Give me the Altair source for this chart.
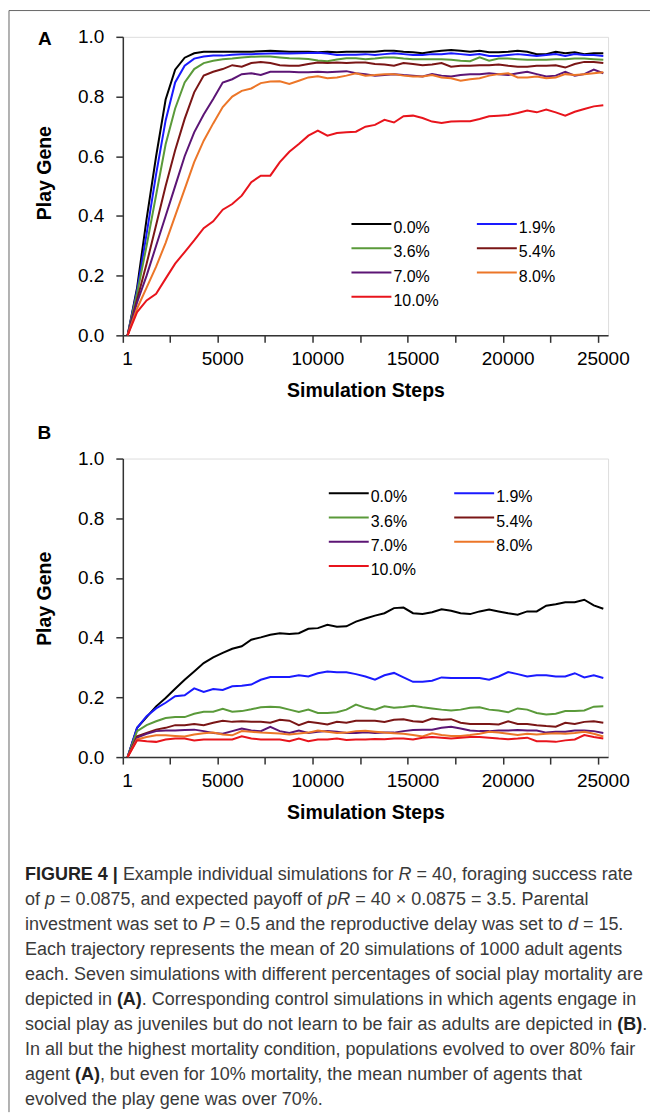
import altair as alt
import pandas as pd

STEPS = [1, 500, 1000, 1500, 2000, 2500, 3000, 3500, 4000, 4500,
         5000, 5500, 6000, 6500, 7000, 7500, 8000, 8500, 9000, 9500,
         10000, 10500, 11000, 11500, 12000, 12500, 13000, 13500, 14000, 14500,
         15000, 15500, 16000, 16500, 17000, 17500, 18000, 18500, 19000, 19500,
         20000, 20500, 21000, 21500, 22000, 22500, 23000, 23500, 24000, 24500, 25000]
TICK_STEPS = [1, 2500, 5000, 7500, 10000, 12500, 15000, 17500, 20000, 22500, 25000]
Y_TICKS = [0.0, 0.2, 0.4, 0.6, 0.8, 1.0]

SERIES = ["0.0%", "1.9%", "3.6%", "5.4%", "7.0%", "8.0%", "10.0%"]
COLORS = ["#000000", "#1a1aff", "#5a9a3a", "#7a1616", "#5c1575", "#ec7628", "#e8141c"]

A_00 = [0, 0.16, 0.39, 0.60, 0.79, 0.89, 0.93, 0.945, 0.95, 0.95,
        0.95, 0.95, 0.95, 0.95, 0.952, 0.953, 0.952, 0.95, 0.95, 0.95,
        0.948, 0.95, 0.948, 0.95, 0.95, 0.95, 0.95, 0.953, 0.953, 0.95,
        0.948, 0.945, 0.95, 0.953, 0.956, 0.953, 0.95, 0.953, 0.948, 0.948,
        0.95, 0.953, 0.95, 0.942, 0.942, 0.95, 0.945, 0.948, 0.942, 0.945, 0.945]
A_19 = [0, 0.15, 0.34, 0.54, 0.72, 0.847, 0.903, 0.927, 0.934, 0.937,
        0.937, 0.94, 0.942, 0.942, 0.943, 0.944, 0.945, 0.944, 0.945, 0.946,
        0.947, 0.944, 0.939, 0.94, 0.94, 0.942, 0.939, 0.942, 0.945, 0.942,
        0.939, 0.939, 0.942, 0.942, 0.945, 0.942, 0.939, 0.942, 0.936, 0.936,
        0.939, 0.942, 0.939, 0.936, 0.939, 0.942, 0.936, 0.942, 0.939, 0.939, 0.936]
A_36 = [0, 0.14, 0.30, 0.47, 0.64, 0.76, 0.847, 0.892, 0.912, 0.92,
        0.925, 0.927, 0.931, 0.933, 0.934, 0.934, 0.931, 0.928, 0.927, 0.926,
        0.921, 0.918, 0.924, 0.928, 0.928, 0.925, 0.927, 0.931, 0.931, 0.927,
        0.925, 0.925, 0.925, 0.925, 0.923, 0.92, 0.918, 0.931, 0.92, 0.927,
        0.927, 0.925, 0.923, 0.923, 0.923, 0.925, 0.925, 0.927, 0.927, 0.925, 0.923]
A_54 = [0, 0.12, 0.24, 0.37, 0.50, 0.62, 0.725, 0.814, 0.87, 0.883,
        0.892, 0.905, 0.90, 0.912, 0.916, 0.912, 0.905, 0.903, 0.903, 0.909,
        0.914, 0.912, 0.914, 0.912, 0.914, 0.914, 0.909, 0.907, 0.903, 0.912,
        0.909, 0.905, 0.907, 0.912, 0.90, 0.903, 0.903, 0.905, 0.905, 0.907,
        0.903, 0.90, 0.90, 0.903, 0.903, 0.905, 0.897, 0.909, 0.916, 0.916, 0.912]
A_70 = [0, 0.11, 0.20, 0.30, 0.40, 0.50, 0.60, 0.68, 0.74, 0.792,
        0.847, 0.858, 0.875, 0.878, 0.872, 0.883, 0.883, 0.883, 0.881, 0.881,
        0.883, 0.881, 0.883, 0.885, 0.878, 0.875, 0.87, 0.872, 0.875, 0.872,
        0.87, 0.867, 0.875, 0.87, 0.867, 0.872, 0.875, 0.875, 0.878, 0.875,
        0.872, 0.878, 0.883, 0.875, 0.867, 0.87, 0.883, 0.87, 0.875, 0.89, 0.878]
A_80 = [0, 0.09, 0.16, 0.23, 0.31, 0.40, 0.49, 0.58, 0.652, 0.71,
        0.765, 0.80, 0.819, 0.827, 0.845, 0.85, 0.851, 0.842, 0.853, 0.864,
        0.868, 0.861, 0.864, 0.87, 0.878, 0.87, 0.872, 0.875, 0.875, 0.87,
        0.867, 0.867, 0.872, 0.864, 0.861, 0.853, 0.858, 0.861, 0.87, 0.875,
        0.878, 0.864, 0.864, 0.867, 0.861, 0.864, 0.875, 0.872, 0.875, 0.878, 0.881]
A_100 = [0, 0.078, 0.117, 0.139, 0.19, 0.24, 0.279, 0.318, 0.359, 0.382,
         0.421, 0.44, 0.468, 0.513, 0.535, 0.535, 0.58, 0.615, 0.641, 0.669,
         0.686, 0.669, 0.678, 0.680, 0.682, 0.699, 0.705, 0.722, 0.713, 0.734,
         0.736, 0.728, 0.716, 0.711, 0.716, 0.717, 0.717, 0.725, 0.734, 0.736,
         0.738, 0.745, 0.753, 0.747, 0.756, 0.747, 0.736, 0.749, 0.758, 0.767, 0.771]

B_00 = [0, 0.098, 0.134, 0.17, 0.198, 0.229, 0.259, 0.287, 0.315, 0.334,
        0.349, 0.363, 0.371, 0.393, 0.401, 0.41, 0.415, 0.412, 0.415, 0.43,
        0.432, 0.443, 0.437, 0.438, 0.454, 0.464, 0.474, 0.482, 0.499, 0.501,
        0.482, 0.479, 0.485, 0.495, 0.49, 0.482, 0.479, 0.488, 0.494, 0.488,
        0.482, 0.477, 0.488, 0.488, 0.507, 0.512, 0.519, 0.519, 0.527, 0.508, 0.497]
B_19 = [0, 0.098, 0.137, 0.163, 0.182, 0.204, 0.207, 0.23, 0.218, 0.228,
        0.225, 0.237, 0.239, 0.243, 0.259, 0.268, 0.268, 0.268, 0.274, 0.27,
        0.281, 0.287, 0.284, 0.284, 0.278, 0.27, 0.259, 0.274, 0.282, 0.267,
        0.252, 0.252, 0.256, 0.267, 0.265, 0.265, 0.265, 0.265, 0.259, 0.27,
        0.285, 0.278, 0.27, 0.274, 0.274, 0.27, 0.27, 0.281, 0.267, 0.274, 0.265]
B_36 = [0, 0.087, 0.107, 0.12, 0.131, 0.134, 0.134, 0.145, 0.152, 0.152,
        0.162, 0.152, 0.154, 0.16, 0.167, 0.169, 0.167, 0.159, 0.151, 0.159,
        0.148, 0.148, 0.15, 0.159, 0.176, 0.165, 0.159, 0.17, 0.165, 0.168,
        0.172, 0.167, 0.163, 0.159, 0.156, 0.159, 0.165, 0.167, 0.159, 0.156,
        0.15, 0.163, 0.159, 0.148, 0.143, 0.145, 0.154, 0.154, 0.156, 0.169, 0.17]
B_54 = [0, 0.07, 0.081, 0.092, 0.098, 0.107, 0.107, 0.111, 0.107, 0.115,
        0.122, 0.118, 0.12, 0.118, 0.118, 0.115, 0.125, 0.122, 0.107, 0.118,
        0.114, 0.109, 0.118, 0.115, 0.122, 0.122, 0.122, 0.118, 0.125, 0.127,
        0.12, 0.118, 0.129, 0.125, 0.127, 0.115, 0.111, 0.111, 0.111, 0.109,
        0.12, 0.111, 0.111, 0.107, 0.104, 0.102, 0.115, 0.111, 0.118, 0.12, 0.115]
B_70 = [0, 0.065, 0.078, 0.087, 0.089, 0.089, 0.091, 0.092, 0.087, 0.081,
        0.078, 0.087, 0.096, 0.089, 0.087, 0.101, 0.087, 0.081, 0.089, 0.081,
        0.085, 0.087, 0.085, 0.081, 0.081, 0.083, 0.081, 0.082, 0.082, 0.087,
        0.091, 0.092, 0.092, 0.098, 0.102, 0.096, 0.089, 0.087, 0.087, 0.089,
        0.089, 0.091, 0.089, 0.089, 0.082, 0.085, 0.085, 0.089, 0.089, 0.087, 0.081]
B_80 = [0, 0.059, 0.067, 0.073, 0.073, 0.071, 0.069, 0.076, 0.08, 0.082,
        0.076, 0.073, 0.087, 0.085, 0.082, 0.081, 0.079, 0.076, 0.079, 0.082,
        0.089, 0.085, 0.081, 0.082, 0.087, 0.088, 0.085, 0.082, 0.08, 0.078,
        0.074, 0.069, 0.08, 0.074, 0.071, 0.071, 0.074, 0.078, 0.085, 0.082,
        0.078, 0.074, 0.078, 0.076, 0.078, 0.08, 0.078, 0.081, 0.085, 0.078, 0.069]
B_100 = [0, 0.056, 0.053, 0.051, 0.059, 0.062, 0.062, 0.056, 0.059, 0.059,
         0.059, 0.059, 0.07, 0.062, 0.059, 0.059, 0.059, 0.053, 0.062, 0.053,
         0.059, 0.059, 0.062, 0.057, 0.059, 0.059, 0.061, 0.06, 0.062, 0.062,
         0.059, 0.065, 0.067, 0.065, 0.062, 0.065, 0.067, 0.067, 0.065, 0.062,
         0.06, 0.062, 0.065, 0.053, 0.053, 0.051, 0.056, 0.059, 0.074, 0.067, 0.062]

PANEL_A = [A_00, A_19, A_36, A_54, A_70, A_80, A_100]
PANEL_B = [B_00, B_19, B_36, B_54, B_70, B_80, B_100]

# caption: each line is a list of (text, style) with style r=regular, i=italic, b=bold
CAPTION = [
    [("FIGURE 4 |", "b"), (" Example individual simulations for ", "r"), ("R", "i"),
     (" = 40, foraging success rate", "r")],
    [("of ", "r"), ("p", "i"), (" = 0.0875, and expected payoff of ", "r"), ("pR", "i"),
     (" = 40 \u00d7 0.0875 = 3.5. Parental", "r")],
    [("investment was set to ", "r"), ("P", "i"),
     (" = 0.5 and the reproductive delay was set to ", "r"), ("d", "i"), (" = 15.", "r")],
    [("Each trajectory represents the mean of 20 simulations of 1000 adult agents", "r")],
    [("each. Seven simulations with different percentages of social play mortality are", "r")],
    [("depicted in ", "r"), ("(A)", "b"),
     (". Corresponding control simulations in which agents engage in", "r")],
    [("social play as juveniles but do not learn to be fair as adults are depicted in ", "r"),
     ("(B)", "b"), (".", "r")],
    [("In all but the highest mortality condition, populations evolved to over 80% fair", "r")],
    [("agent ", "r"), ("(A)", "b"),
     (", but even for 10% mortality, the mean number of agents that", "r")],
    [("evolved the play gene was over 70%.", "r")],
]

FONT = "Liberation Sans"
AXC = "#333333"
W, H = 486, 299
CAP_SIZE = 18

# Arial / Liberation Sans advance widths (per 1000 em) used to place styled caption runs
_REG = {" ": 278, ",": 278, ".": 278, "=": 584, "%": 889, "(": 333, ")": 333, "|": 260,
        "\u00d7": 584, "0": 556, "1": 556, "2": 556, "3": 556, "4": 556, "5": 556,
        "6": 556, "7": 556, "8": 556, "9": 556,
        "A": 667, "B": 667, "C": 722, "D": 722, "E": 667, "F": 611, "G": 778, "H": 722,
        "I": 278, "J": 500, "K": 667, "L": 556, "M": 833, "N": 722, "O": 778, "P": 667,
        "Q": 778, "R": 722, "S": 667, "T": 611, "U": 722, "V": 667, "W": 944, "X": 667,
        "Y": 667, "Z": 611,
        "a": 556, "b": 556, "c": 500, "d": 556, "e": 556, "f": 278, "g": 556, "h": 556,
        "i": 222, "j": 222, "k": 500, "l": 222, "m": 833, "n": 556, "o": 556, "p": 556,
        "q": 556, "r": 333, "s": 500, "t": 278, "u": 556, "v": 500, "w": 722, "x": 500,
        "y": 500, "z": 500}
_BOLD = dict(_REG)
_BOLD.update({"A": 722, "B": 722, "|": 280})


def run_width(txt, style):
    table = _BOLD if style == "b" else _REG
    return sum(table.get(ch, 556) for ch in txt) * CAP_SIZE / 1000.0


def long_df(panel):
    rows = []
    for name, vals in zip(SERIES, panel):
        for st, v in zip(STEPS, vals):
            rows.append({"step": st, "series": name, "value": v})
    return pd.DataFrame(rows)


dummy = pd.DataFrame({"k": [0]})


def text_at(txt, x, y, size, weight="normal", color="#000000", align="left", style="normal"):
    return alt.Chart(dummy).mark_text(
        text=txt, fontSize=size, fontWeight=weight, fontStyle=style, color=color,
        align=align, baseline="middle", font=FONT
    ).encode(x=alt.value(x), y=alt.value(y))


def lines(panel, lx, ly, title_y):
    x = alt.X(
        "step:O", title="Simulation Steps",
        scale=alt.Scale(type="band", paddingInner=0, paddingOuter=0),
        axis=alt.Axis(
            values=TICK_STEPS, bandPosition=0, labelAngle=0,
            labelExpr="(datum.value == 1 || datum.value % 5000 == 0) ? datum.label : ''",
            labelOverlap=False, tickSize=7, tickWidth=1.5, tickColor=AXC,
            domainColor=AXC, domainWidth=1.5, labelPadding=7, labelFontSize=19,
            labelFont=FONT, labelColor="#000000", titleFont=FONT, titleFontSize=19.5,
            titleFontWeight="bold", titleColor="#000000", titlePadding=13.5, grid=False,
        ),
    )
    y = alt.Y(
        "value:Q", title="Play Gene",
        scale=alt.Scale(domain=[0, 1], nice=False),
        axis=alt.Axis(
            values=Y_TICKS, format=".1f", tickSize=7, tickWidth=1.5, tickColor=AXC,
            domainColor=AXC, domainWidth=1.5, labelPadding=12, labelFontSize=19,
            labelFont=FONT, labelColor="#000000", titleFont=FONT, titleFontSize=19.5,
            titleFontWeight="bold", titleColor="#000000", titleX=-68, titleY=title_y,
            grid=False,
        ),
    )
    color = alt.Color(
        "series:N",
        scale=alt.Scale(domain=SERIES, range=COLORS),
        legend=alt.Legend(
            title=None, orient="none", legendX=lx, legendY=ly, columns=2,
            direction="horizontal",
            symbolType="M-1.3333,-0.2667H1.3333", symbolSize=900, symbolStrokeWidth=2,
            symbolOffset=4, labelOffset=6, rowPadding=0.3, columnPadding=33.6,
            labelFontSize=16, labelFont=FONT, labelColor="#000000", padding=0,
        ),
    )
    return alt.Chart(long_df(panel)).mark_line(strokeWidth=2).encode(x=x, y=y, color=color)


rule_kw = dict(color="#666666", strokeWidth=1)
top_rule = alt.Chart(dummy).mark_rule(**rule_kw).encode(
    x=alt.value(-114), x2=alt.value(528), y=alt.value(-26.3))
left_rule = alt.Chart(dummy).mark_rule(**rule_kw).encode(
    x=alt.value(-114), y=alt.value(-26.3), y2=alt.value(1077))

panel_a = alt.layer(
    lines(PANEL_A, 229, 175.5, 136),
    top_rule, left_rule,
    text_at("A", -78, 2.5, 19, weight="bold", align="center"),
).properties(width=W, height=H)

cap_layers = []
for k, runs in enumerate(CAPTION):
    ypos = 417.1 + 25 * k
    xcur = -98.0
    for txt, st in runs:
        lead = len(txt) - len(txt.lstrip(" "))
        body = txt.strip(" ")
        xdraw = xcur + run_width(" " * lead, st)
        cap_layers.append(text_at(
            body, round(xdraw, 2), ypos, CAP_SIZE,
            weight="bold" if st == "b" else "normal",
            style="italic" if st == "i" else "normal",
            color="#222222" if st == "b" else "#3a3a3a",
        ))
        xcur += run_width(txt, st)

panel_b = alt.layer(
    lines(PANEL_B, 206.3, 22.8, 140),
    text_at("B", -78.5, -26, 19, weight="bold", align="center"),
    *cap_layers,
).properties(width=W, height=H)

chart = alt.vconcat(panel_a, panel_b, spacing=123.4, bounds="flush").resolve_legend(
    color="independent"
).properties(padding=0).configure_view(stroke="transparent").configure(font=FONT)

chart.save("out.html", embed_options={"renderer": "svg", "actions": False})
